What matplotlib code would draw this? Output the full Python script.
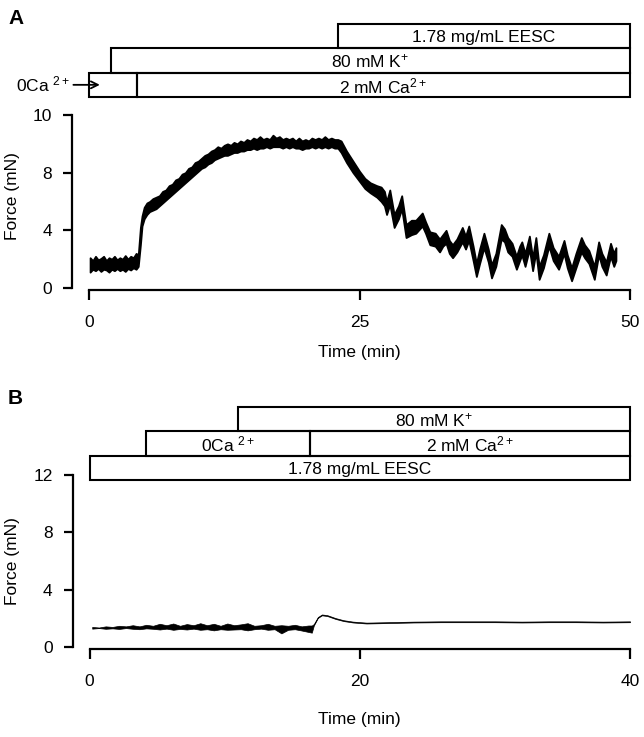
import matplotlib
matplotlib.use("Agg")
import matplotlib.pyplot as plt

plt.rcParams['font.family'] = ['Liberation Sans', 'DejaVu Sans']
plt.rcParams['mathtext.default'] = 'regular'

W, H = 644, 737

# ---------- data ----------
# panel A: force trace envelope (lower / upper edge of the noisy band), mN
a_time = [0.1, 0.35, 0.6, 0.85, 1.1, 1.35, 1.6, 1.85, 2.1, 2.35, 2.6, 2.85, 3.1, 3.35,
          3.6, 3.85, 4.1, 4.35, 4.55,
          4.75, 4.9, 5.1, 5.35, 5.6, 5.9, 6.2, 6.5, 6.8, 7.1, 7.4, 7.7, 8.0, 8.3, 8.6,
          8.9, 9.2, 9.5, 9.8, 10.1, 10.4, 10.7, 11.0, 11.3, 11.6, 11.9, 12.2, 12.5,
          12.8, 13.1, 13.4, 13.7, 14.0, 14.3, 14.6, 14.9, 15.2, 15.5, 15.8, 16.1,
          16.4, 16.7, 17.0, 17.3, 17.6, 17.9, 18.2, 18.5, 18.8, 19.1, 19.4, 19.7,
          20.0, 20.3, 20.6, 20.9, 21.2, 21.5, 21.8, 22.1, 22.4, 22.7, 23.0,
          23.3, 23.8, 24.4, 25.0, 25.5, 26.0, 26.6, 27.0, 27.3, 27.5, 27.8, 28.2, 28.6,
          28.9, 29.3, 29.8, 30.2, 30.8, 31.1, 31.5, 32.0, 32.4, 32.7, 33.0, 33.3, 33.6,
          34.0, 34.5, 34.8, 35.1, 35.5, 35.8, 36.1, 36.5, 36.9, 37.2, 37.6, 38.1, 38.4,
          38.7, 39.1, 39.5, 39.8, 40.0, 40.3, 40.7, 41.0, 41.3, 41.6, 42.0, 42.5, 42.9,
          43.4, 43.9, 44.2, 44.6, 45.0, 45.5, 45.8, 46.2, 46.7, 47.1, 47.4, 47.8, 48.2,
          48.5, 48.7]
a_low = [1.1, 1.3, 1.2, 1.35, 1.15, 1.3, 1.25, 1.1, 1.3, 1.2, 1.35, 1.2, 1.3, 1.15,
         1.35, 1.25, 1.4, 1.3, 1.5,
         3.0, 4.3, 4.8, 5.1, 5.3, 5.4, 5.5, 5.7, 5.9, 6.1, 6.3, 6.5, 6.7, 6.9, 7.1,
         7.3, 7.5, 7.7, 7.9, 8.1, 8.3, 8.4, 8.6, 8.7, 8.9, 9.0, 9.1, 9.2,
         9.2, 9.3, 9.4, 9.4, 9.5, 9.5, 9.6, 9.6, 9.7, 9.6, 9.7, 9.7,
         9.8, 9.7, 9.8, 9.8, 9.8, 9.7, 9.8, 9.7, 9.8, 9.7, 9.7, 9.6,
         9.7, 9.7, 9.8, 9.7, 9.8, 9.7, 9.8, 9.7, 9.8, 9.7, 9.7,
         9.4, 8.7, 8.0, 7.4, 6.9, 6.6, 6.3, 6.0, 5.7, 5.1, 5.8, 4.2, 4.8,
         5.5, 3.5, 3.7, 3.8, 4.3, 3.8, 3.0, 2.9, 2.5, 2.9, 3.1, 2.4, 2.1,
         2.5, 3.2, 2.7, 3.3, 1.9, 0.8, 1.7, 2.8, 1.8, 0.7, 1.5, 3.4, 3.2,
         2.5, 2.2, 1.3, 1.9, 2.3, 1.5, 2.7, 1.2, 2.5, 0.6, 1.4, 2.9, 1.9,
         1.3, 2.4, 1.4, 0.5, 1.4, 2.5, 2.1, 1.7, 0.6, 2.3, 1.5, 0.9, 2.2,
         1.5, 1.9]
a_high = [2.1, 1.9, 2.2, 1.95, 2.05, 2.2, 1.9, 2.1, 2.0, 2.2, 1.95, 2.1, 2.0, 2.25,
          2.0, 2.2, 2.1, 2.4, 2.3,
          4.2, 5.0, 5.6, 5.9, 6.0, 6.2, 6.3, 6.4, 6.7, 6.8, 7.1, 7.2, 7.5, 7.6, 7.9,
          8.0, 8.3, 8.4, 8.7, 8.8, 9.0, 9.2, 9.3, 9.5, 9.6, 9.8, 9.7, 9.9,
          10.0, 9.9, 10.1, 10.0, 10.2, 10.1, 10.3, 10.2, 10.4, 10.3, 10.5, 10.3,
          10.4, 10.3, 10.6, 10.4, 10.5, 10.3, 10.4, 10.3, 10.4, 10.2, 10.4, 10.2,
          10.3, 10.2, 10.4, 10.3, 10.4, 10.3, 10.5, 10.3, 10.4, 10.3, 10.3,
          10.2, 9.5, 8.8, 8.1, 7.6, 7.3, 7.1, 7.0, 6.7, 6.0, 6.8, 5.1, 5.7,
          6.4, 4.4, 4.7, 4.7, 5.2, 4.6, 3.9, 3.8, 3.4, 3.7, 4.0, 3.3, 3.0,
          3.4, 4.2, 3.6, 4.3, 2.9, 1.7, 2.7, 3.8, 2.7, 1.6, 2.4, 4.4, 4.1,
          3.5, 3.1, 2.2, 2.9, 3.2, 2.4, 3.6, 2.1, 3.5, 1.5, 2.3, 3.8, 2.8,
          2.2, 3.3, 2.3, 1.4, 2.4, 3.5, 3.0, 2.6, 1.5, 3.2, 2.4, 1.8, 3.1,
          2.4, 2.8]

# panel B: force trace envelope, mN
b_time = [0.2, 0.7, 1.2, 1.7, 2.2, 2.7, 3.2, 3.7, 4.2, 4.7, 5.2, 5.7, 6.2, 6.7, 7.2,
          7.7, 8.2, 8.7, 9.2, 9.7, 10.2, 10.7, 11.2, 11.7, 12.2, 12.7, 13.2, 13.7,
          14.2, 14.7, 15.2, 15.7, 16.2,
          16.45, 16.6, 16.9, 17.2, 17.6, 18.2, 18.8, 19.5, 20.5, 22, 24, 26, 28,
          30, 32, 34, 36, 38, 40]
b_low = [1.28, 1.32, 1.27, 1.3, 1.26, 1.32, 1.27, 1.24, 1.3, 1.27, 1.22, 1.28, 1.2,
         1.26, 1.22, 1.28, 1.2, 1.24, 1.16, 1.24, 1.2, 1.22, 1.24, 1.16, 1.24, 1.28,
         1.2, 1.24, 0.95, 1.2, 1.24, 1.15, 1.05,
         1.0, 1.5, 2.03, 2.21, 2.16, 1.96, 1.81, 1.71, 1.64, 1.67, 1.71, 1.73, 1.73,
         1.73, 1.71, 1.73, 1.73, 1.71, 1.73]
b_high = [1.4, 1.36, 1.44, 1.4, 1.48, 1.44, 1.52, 1.44, 1.55, 1.48, 1.62, 1.52, 1.64,
          1.48, 1.6, 1.52, 1.66, 1.52, 1.62, 1.48, 1.64, 1.52, 1.58, 1.66, 1.48, 1.52,
          1.62, 1.48, 1.52, 1.48, 1.55, 1.44, 1.5,
          1.5, 1.6, 2.09, 2.27, 2.22, 2.02, 1.87, 1.77, 1.7, 1.73, 1.77, 1.79, 1.79,
          1.79, 1.77, 1.79, 1.79, 1.77, 1.79]

y_ticks = [0, 4, 8, 12]
a_ytick_labels = ['0', '4', '8', '10']
b_ytick_labels = ['0', '4', '8', '12']
a_xticks = [0, 25, 50]
b_xticks = [0, 20, 40]

# protocol bars: (row, start, end, label)
a_bars = [(0, 0, 4.4, ''), (0, 4.4, 50, '2 mM Ca$^{2+}$'),
          (1, 2.0, 50, '80 mM K$^{+}$'),
          (2, 23.0, 50, '1.78 mg/mL EESC')]
b_bars = [(0, 0, 40, '1.78 mg/mL EESC'),
          (1, 4.17, 16.3, '0Ca $^{2+}$'), (1, 16.3, 40, '2 mM Ca$^{2+}$'),
          (2, 11.0, 40, '80 mM K$^{+}$')]


def px_axes(fig, left, top, right, bottom):
    return fig.add_axes([left / W, 1 - bottom / H, (right - left) / W, (bottom - top) / H])


def style_trace_axes(ax, xmax, xticks, ylabels):
    ax.set_xlim(0, xmax)
    ax.set_ylim(0, 12)
    for s in ['top', 'right']:
        ax.spines[s].set_visible(False)
    ax.spines['left'].set_position(('outward', 12))
    ax.spines['bottom'].set_position(('outward', 1.5))
    ax.spines['left'].set_bounds(0, 12)
    ax.spines['bottom'].set_bounds(0, xmax)
    for s in ['left', 'bottom']:
        ax.spines[s].set_linewidth(1.6)
    ax.set_yticks(y_ticks)
    ax.set_yticklabels(ylabels)
    ax.set_xticks(xticks)
    ax.tick_params(axis='y', length=6.5, width=1.6, pad=8, labelsize=12.5)
    ax.tick_params(axis='x', length=7, width=1.6, pad=11, labelsize=12.5)
    ax.set_ylabel('Force (mN)', fontsize=12.5)
    ax.set_xlabel('Time (min)', fontsize=12.5)
    ax.patch.set_alpha(0)


def draw_bars(ax, bars, xmax):
    ax.set_xlim(0, xmax)
    ax.set_ylim(0, 3)
    ax.axis('off')
    for row, x0, x1, label in bars:
        ax.add_patch(plt.Rectangle((x0, row), x1 - x0, 1, fill=False,
                                   edgecolor='black', lw=1.5, clip_on=False))
        if label:
            ax.text((x0 + x1) / 2, row + 0.45, label, ha='center', va='center',
                    fontsize=12.5)


fig = plt.figure(figsize=(W / 100, H / 100), dpi=100)

# ---------- panel A ----------
axA = px_axes(fig, 89, 115, 630, 288)
axA.fill_between(a_time, a_low, a_high, color='black', lw=1.3)
style_trace_axes(axA, 50, a_xticks, a_ytick_labels)
axA.yaxis.set_label_coords(-0.128, 0.53)
axA.xaxis.set_label_coords(0.5, -0.33)

barA = px_axes(fig, 89, 24, 630, 97)
draw_bars(barA, a_bars, 50)
barA.annotate('0Ca $^{2+}$', xy=(1.0, 0.5), xytext=(-1.7, 0.5), ha='right', va='center',
              fontsize=12.5, annotation_clip=False,
              arrowprops=dict(arrowstyle='->', lw=1.3, shrinkA=0, shrinkB=0))
fig.text(8 / W, 1 - 18 / H, 'A', fontsize=15, fontweight='bold', va='center')

# ---------- panel B ----------
axB = px_axes(fig, 89.5, 475, 630, 647)
axB.fill_between(b_time, b_low, b_high, color='black', lw=0.5)
style_trace_axes(axB, 40, b_xticks, b_ytick_labels)
axB.yaxis.set_label_coords(-0.128, 0.5)
axB.xaxis.set_label_coords(0.5, -0.38)

barB = px_axes(fig, 89.5, 407, 630, 480)
draw_bars(barB, b_bars, 40)
fig.text(8 / W, 1 - 398 / H, 'B', fontsize=15, fontweight='bold', va='center')

fig.savefig('out.png', dpi=100)
